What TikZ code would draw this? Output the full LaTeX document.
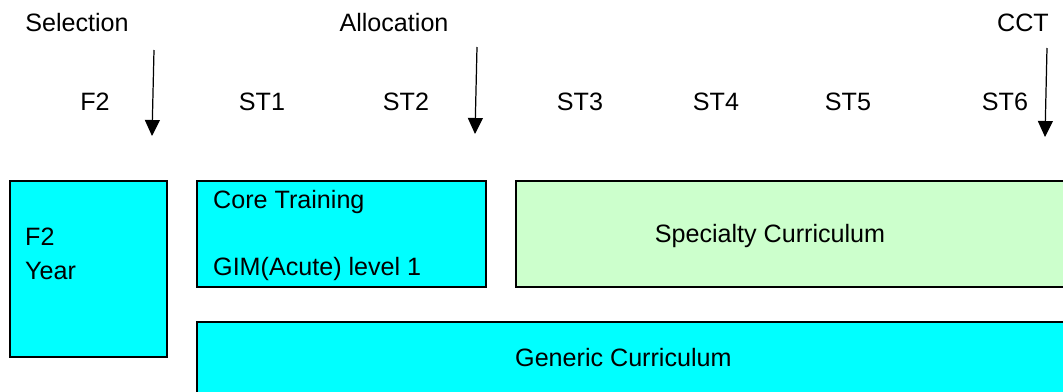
\documentclass[tikz,border=0pt]{standalone}
\usepackage{fontspec}
\setmainfont{Liberation Sans}
\usepackage{tikz}
\usetikzlibrary{arrows.meta}

\definecolor{boxcyan}{HTML}{00FFFF}
\definecolor{boxgreen}{HTML}{CCFFCC}

\begin{document}
\begin{tikzpicture}[x=0.02cm, y=-0.02cm, font=\fontsize{14.3}{19}\selectfont] % 1単位 = 1px
    \useasboundingbox (0,0) rectangle (1063,392); % 画像の大きさ
    \tikzset{box/.style={draw=black, line width=0.9pt}, % 枠
             down/.style={-{Triangle[length=0.32cm, width=0.3cm]}, line width=0.7pt}} % 下向き矢印

    % 上段の見出しと矢印
    \node (sel) at (77,23) {Selection};
    \node (alloc) at (394,23) {Allocation};
    \node (cct) at (1023,23) {CCT};
    \coordinate (selTop) at (154,50);   \coordinate (selTip) at (152,136);
    \coordinate (allocTop) at (477,47); \coordinate (allocTip) at (475,134);
    \coordinate (cctTop) at (1047,48);  \coordinate (cctTip) at (1045,137);
    \draw[down] (selTop)--(selTip);
    \draw[down] (allocTop)--(allocTip);
    \draw[down] (cctTop)--(cctTip);

    % 年次
    \node (f2) at (95,102) {F2};
    \node (st1) at (262,102) {ST1};
    \node (st2) at (406,102) {ST2};
    \node (st3) at (580,102) {ST3};
    \node (st4) at (716,102) {ST4};
    \node (st5) at (848,102) {ST5};
    \node (st6) at (1005,102) {ST6};

    % 箱
    \draw[box, fill=boxcyan] (10,181) rectangle (167,357); % F2 Year
    \node[anchor=west, align=left] (f2year) at (19,254) {F2\\Year};

    \draw[box, fill=boxcyan] (197,181) rectangle (486,287); % Core Training
    \node[anchor=west] (core) at (207,202) {Core Training};
    \node[anchor=west] (gim) at (207,269) {GIM(Acute) level 1};

    \draw[box, fill=boxgreen] (516,181) rectangle (1075,287); % Specialty
    \node (spec) at (770,236) {Specialty Curriculum};

    \draw[box, fill=boxcyan] (197,322) rectangle (1075,400); % Generic
    \node[anchor=west] (gen) at (509,358) {Generic Curriculum};
\end{tikzpicture}
\end{document}
